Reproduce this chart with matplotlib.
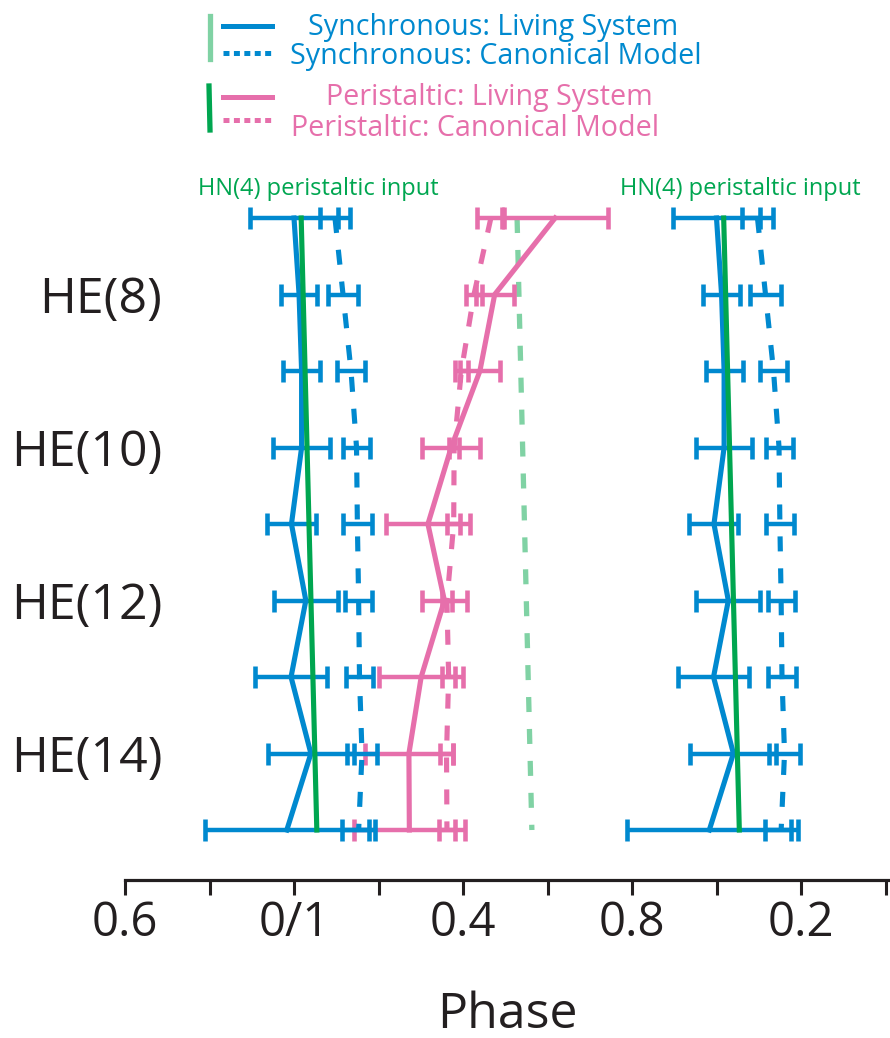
import numpy as np
import matplotlib
matplotlib.use("Agg")
import matplotlib.pyplot as plt
from matplotlib.lines import Line2D

plt.rcParams.update({
    "font.family": ["Open Sans", "DejaVu Sans"],
    "lines.scale_dashes": False,
    "figure.facecolor": "white", "savefig.facecolor": "white",
})

BLUE = "#0089CF"
PINK = "#E66FAB"
GREEN = "#00A650"
LIGHT_GREEN = "#80D2A4"
INK = "#231F20"

# ganglia, top to bottom
rows = ["HE(7)", "HE(8)", "HE(9)", "HE(10)", "HE(11)", "HE(12)", "HE(13)", "HE(14)", "HE(15)"]
labelled_rows = ["HE(8)", "HE(10)", "HE(12)", "HE(14)"]

# phase (unwrapped; 0 == 0/1) with SD
sync_living = [0.000, 0.012, 0.018, 0.018, -0.006, 0.028, -0.007, 0.040, -0.017]
sync_living_sd = [0.104, 0.043, 0.044, 0.067, 0.058, 0.076, 0.085, 0.102, 0.194]
sync_model = [0.097, 0.116, 0.135, 0.148, 0.150, 0.153, 0.155, 0.161, 0.153]
sync_model_sd = [0.036, 0.036, 0.033, 0.032, 0.034, 0.032, 0.032, 0.036, 0.039]
peri_living = [0.618, 0.475, 0.440, 0.372, 0.317, 0.356, 0.301, 0.272, 0.273]
peri_living_sd = [0.125, 0.045, 0.047, 0.069, 0.099, 0.053, 0.099, 0.104, 0.131]
peri_model = [0.466, 0.426, 0.396, 0.379, 0.378, 0.362, 0.366, 0.361, 0.362]
peri_model_sd = [0.032, 0.019, 0.015, 0.012, 0.015, 0.012, 0.015, 0.015, 0.018]

# HN(4) input phase at first and last ganglion
hn_rows = ["HE(7)", "HE(15)"]
hn_solid = [0.017, 0.054]
hn_dashed = [0.528, 0.563]

tick_pos = [-0.4, 0.0, 0.4, 0.8, 1.2]
tick_labels = ["0.6", "0/1", "0.4", "0.8", "0.2"]
minor_pos = [-0.2, 0.2, 0.6, 1.0, 1.4]

W, H = 890, 1038


def fx(x):
    return x / W


def fy(y):
    return 1 - y / H


fig = plt.figure(figsize=(W / 100, H / 100), dpi=100)
ax = fig.add_axes([fx(125), fy(880), fx(765), (880 - 160) / H])

y = np.arange(len(rows))
yh = [rows.index(r) for r in hn_rows]
DASH = (0, (10.8, 12.2))
eb = dict(fmt="none", elinewidth=3.2, capsize=7.9, capthick=3.3)


def series(x, sd, color, ls, z, shift=0.0):
    xs = np.array(x) + shift
    ax.errorbar(xs, y, xerr=sd, ecolor=color, zorder=z, **eb)
    ax.plot(xs, y, color=color, lw=3.7, ls=ls, zorder=z, solid_joinstyle="miter")


ax.plot(hn_dashed, yh, color=LIGHT_GREEN, lw=3.8, ls=DASH, zorder=1)
series(peri_model, peri_model_sd, PINK, DASH, 2)
series(peri_living, peri_living_sd, PINK, "-", 2)
for shift in (0.0, 1.0):
    series(sync_model, sync_model_sd, BLUE, DASH, 3, shift)
    series(sync_living, sync_living_sd, BLUE, "-", 3, shift)
    ax.plot(np.array(hn_solid) + shift, yh, color=GREEN, lw=3.7, zorder=4)
    ax.text(hn_solid[0] + shift + 0.04, -0.38, "HN(4) peristaltic input", color=GREEN,
            fontsize=17, ha="center", va="center")

ax.set_xlim(-0.4, -0.4 + 765 / 422.5)
ax.set_ylim(8 + 50 / 76.5, -58 / 76.5)
for s in ("top", "right", "left"):
    ax.spines[s].set_visible(False)
ax.spines["bottom"].set_linewidth(2.3)
ax.spines["bottom"].set_color(INK)
ax.set_xticks(tick_pos)
ax.set_xticklabels(tick_labels)
ax.set_xticks(minor_pos, minor=True)
ax.tick_params(axis="x", which="both", direction="out", length=11, width=2.2, color=INK)
ax.tick_params(axis="x", which="major", labelsize=34, pad=3, labelcolor=INK)
ax.set_yticks([rows.index(r) for r in labelled_rows])
ax.set_yticklabels(labelled_rows)
ax.tick_params(axis="y", length=0, labelsize=36, pad=-27, labelcolor=INK)
ax.set_xlabel("Phase", fontsize=36, color=INK, labelpad=31)

# legend, drawn by hand
lg = dict(transform=fig.transFigure, lw=3.6)
fig.add_artist(Line2D([fx(210), fx(210)], [fy(16), fy(59)], color=LIGHT_GREEN, transform=fig.transFigure, lw=3.8))
fig.add_artist(Line2D([fx(209), fx(210)], [fy(86), fy(130)], color=GREEN, transform=fig.transFigure, lw=3.8))
fig.add_artist(Line2D([fx(223), fx(272)], [fy(26), fy(26)], color=BLUE, **lg))
fig.add_artist(Line2D([fx(223), fx(272)], [fy(53), fy(53)], color=BLUE, ls=(0, (4.3, 3.2)), **lg))
fig.add_artist(Line2D([fx(223), fx(272)], [fy(97), fy(97)], color=PINK, **lg))
fig.add_artist(Line2D([fx(223), fx(272)], [fy(120), fy(120)], color=PINK, ls=(0, (4.3, 3.2)), **lg))
fig.text(fx(493), fy(27), "Synchronous: Living System", color=BLUE, fontsize=20.6, ha="center", va="center")
fig.text(fx(496), fy(57), "Synchronous: Canonical Model", color=BLUE, fontsize=20.6, ha="center", va="center")
fig.text(fx(489), fy(98), "Peristaltic: Living System", color=PINK, fontsize=20.6, ha="center", va="center")
fig.text(fx(475), fy(128), "Peristaltic: Canonical Model", color=PINK, fontsize=20.6, ha="center", va="center")

fig.savefig("out.png", dpi=100)
